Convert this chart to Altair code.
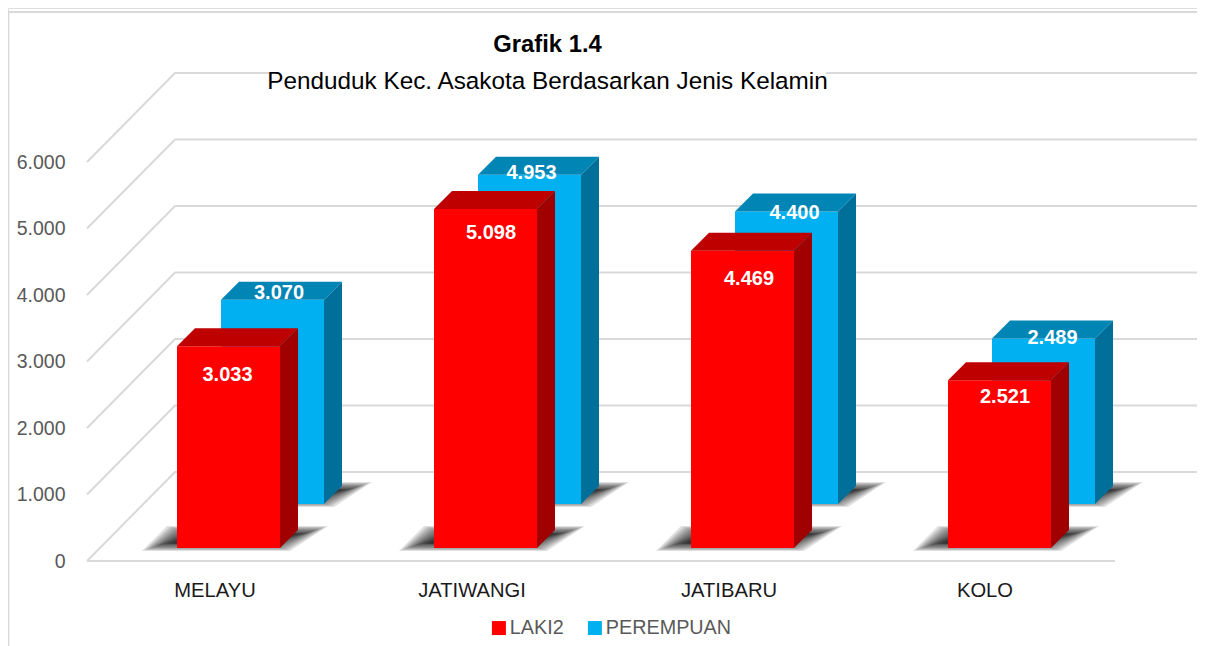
import altair as alt
import pandas as pd

categories = ["MELAYU", "JATIWANGI", "JATIBARU", "KOLO"]
laki2 = [3033, 5098, 4469, 2521]
perempuan = [3070, 4953, 4400, 2489]
ticks = [0, 1000, 2000, 3000, 4000, 5000, 6000]
title_bold = "Grafik 1.4"
title_plain = "Penduduk Kec. Asakota Berdasarkan Jenis Kelamin"

FONT = "Liberation Sans, Arial"
W, H = 1189, 638
STEP = 257.0
K = 0.0665


def X(px):
    return (px - 177) / STEP


def Y(py):
    return (561 - py) / K


def DX(px):
    return px / STEP


def DY(px):
    return px / K


xs = alt.Scale(domain=[X(8), X(8 + W)], range=[0, W], nice=False, zero=False)
ys = alt.Scale(domain=[Y(8 + H), Y(8)], range=[H, 0], nice=False, zero=False)
colors = alt.Scale(domain=["LAKI2", "PEREMPUAN"], range=["#FF0000", "#00B0F0"])
GRID = "#D9D9D9"

yaxis = alt.Axis(
    values=ticks,
    title=None,
    grid=False,
    domain=False,
    ticks=False,
    offset=-57,
    labelPadding=0,
    labelFont=FONT,
    labelFontSize=19.5,
    labelColor="#595959",
    labelExpr="replace(format(datum.value, ','), ',', '.')",
)
EX = alt.X("x:Q", scale=xs, axis=None, stack=None)
EY = alt.Y("y:Q", scale=ys, axis=yaxis, stack=None)

# outer frame, drawn as one polyline running down the left edge and along the top
frame = (
    alt.Chart(
        pd.DataFrame(
            {
                "o": [0, 1, 2],
                "x": [X(8.5), X(8.5), X(8 + W)],
                "y": [Y(8 + H), Y(12), Y(12)],
            }
        )
    )
    .mark_line(color=GRID, strokeWidth=1.8)
    .encode(x=EX, y=EY, order="o:Q")
)

# gridlines
grid_rows = []
for t in ticks:
    grid_rows.append(dict(id=t, o=0, x=X(87), y=Y(561) + t))
    grid_rows.append(dict(id=t, o=1, x=X(175), y=Y(472) + t))
    grid_rows.append(dict(id=t, o=2, x=X(1205), y=Y(472) + t))
grid = (
    alt.Chart(pd.DataFrame(grid_rows))
    .mark_line(color=GRID, strokeWidth=2, interpolate="linear")
    .encode(x=EX, y=EY, detail="id:N", order="o:Q")
)
floor_front = (
    alt.Chart(pd.DataFrame({"x": [X(87)], "x2": [X(1115)], "y": [Y(561)]}))
    .mark_rule(color=GRID, strokeWidth=2)
    .encode(x=EX, x2="x2:Q", y=EY)
)


def bar_geometry(values, left_px, base_py, name):
    """Faces of one series, computed from its values through value-unit offsets."""
    front, side, top, shadow = [], [], [], []
    w = DX(103)
    d = DX(18)
    dv = DY(18)
    base = Y(base_py)
    for i, v in enumerate(values):
        x0 = X(left_px) + i
        t = base + v
        front.append(dict(x=x0, x2=x0 + w, y=base, y2=t, series=name))
        side.append(dict(id=i, x=x0 + w, y=base, y2=t))
        side.append(dict(id=i, x=x0 + w + d, y=base + dv, y2=t + dv))
        top.append(dict(id=i, x=x0, x2=x0 + w, y=t))
        top.append(dict(id=i, x=x0 + d, x2=x0 + w + d, y=t + dv))
        for k in range(12):
            ins = DX(2.6 * k)
            vins = DY(0.9 * min(k, 8))
            sid = f"{i}-{k}"
            shadow.append(dict(id=sid, x=x0 - DX(35) + ins, x2=x0 + w + DX(10) - ins, y=base - DY(3) + vins))
            shadow.append(dict(id=sid, x=x0 - DX(10) + ins, x2=x0 + w + DX(48) - ins, y=base + DY(22) - vins))
    return map(pd.DataFrame, (front, side, top, shadow))


def bar_layers(values, left_px, base_py, name, top_col, side_col):
    front, side, top, shadow = bar_geometry(values, left_px, base_py, name)
    sh = (
        alt.Chart(shadow)
        .mark_area(orient="horizontal", color="#000000", opacity=0.12)
        .encode(x=EX, x2="x2:Q", y=EY, detail="id:N")
    )
    f = (
        alt.Chart(front)
        .mark_rect()
        .encode(
            x=EX,
            x2="x2:Q",
            y=EY,
            y2="y2:Q",
            color=alt.Color(
                "series:N",
                scale=colors,
                legend=alt.Legend(
                    title=None,
                    orient="none",
                    direction="horizontal",
                    legendX=481,
                    legendY=610,
                    symbolType="square",
                    symbolSize=196,
                    symbolStrokeWidth=0,
                    symbolOpacity=1,
                    labelFont=FONT,
                    labelFontSize=19.8,
                    labelColor="#595959",
                    labelOffset=1,
                    columnPadding=21,
                ),
            ),
        )
    )
    s = (
        alt.Chart(side)
        .mark_area(color=side_col, opacity=1)
        .encode(x=EX, y=EY, y2="y2:Q", detail="id:N")
    )
    t = (
        alt.Chart(top)
        .mark_area(orient="horizontal", color=top_col, opacity=1)
        .encode(x=EX, x2="x2:Q", y=EY, detail="id:N")
    )
    return [sh, f, s, t]


blue_layers = bar_layers(perempuan, 221, 504, "PEREMPUAN", "#0085B5", "#00709A")
red_layers = bar_layers(laki2, 177, 548, "LAKI2", "#BF0000", "#A00000")


def label_layer(values, left_px, base_py, nudge_x, nudge_y):
    rows = []
    for i, v in enumerate(values):
        rows.append(
            dict(
                x=X(left_px) + i + DX(51.5 + nudge_x[i]),
                y=Y(base_py) + v - DY(nudge_y[i]),
                t=f"{v:,}".replace(",", "."),
            )
        )
    return (
        alt.Chart(pd.DataFrame(rows))
        .mark_text(font=FONT, fontSize=20, fontWeight="bold", color="#FFFFFF", align="center", baseline="middle", dy=1)
        .encode(x=EX, y=EY, text="t:N")
    )


blue_labels = label_layer(perempuan, 221, 504, [6.5, 2, 8, 9], [-8, -3, 1, -1])
red_labels = label_layer(laki2, 177, 548, [-1, 5.5, 6.5, 5.5], [28, 23, 27, 16])

cat_df = pd.DataFrame(
    {
        "x": [X(p) for p in (215, 472, 729, 985)],
        "y": [Y(590)] * 4,
        "t": categories,
    }
)
cat_text = (
    alt.Chart(cat_df)
    .mark_text(font=FONT, fontSize=20.2, color="#1A1A1A", align="center", baseline="middle", dy=1)
    .encode(x=EX, y=EY, text="t:N")
)

title_patch = (
    alt.Chart(pd.DataFrame({"x": [X(270)], "x2": [X(826)], "y": [Y(70)], "y2": [Y(94)]}))
    .mark_rect(color="#FFFFFF")
    .encode(x=EX, x2="x2:Q", y=EY, y2="y2:Q")
)
title_df = pd.DataFrame(
    {"x": [X(547.5), X(547.5)], "y": [Y(45), Y(82)], "t": [title_bold, title_plain], "w": ["bold", "normal"]}
)
titles = (
    alt.Chart(title_df[title_df.w == "bold"])
    .mark_text(font=FONT, fontSize=23.8, fontWeight="bold", color="#000000", align="center", baseline="middle")
    .encode(x=EX, y=EY, text="t:N")
)
subtitle = (
    alt.Chart(title_df[title_df.w == "normal"])
    .mark_text(font=FONT, fontSize=24.3, color="#000000", align="center", baseline="middle")
    .encode(x=EX, y=EY, text="t:N")
)

chart = (
    alt.layer(
        frame,
        grid,
        floor_front,
        title_patch,
        *blue_layers,
        *red_layers,
        blue_labels,
        red_labels,
        cat_text,
        titles,
        subtitle,
    )
    .resolve_scale(color="shared")
    .properties(width=W, height=H, padding=0, autosize=alt.AutoSizeParams(type="none"))
    .configure_view(stroke=None)
    .configure(background="#FFFFFF")
)
chart.save("out.html", embed_options={"renderer": "svg", "actions": False})
